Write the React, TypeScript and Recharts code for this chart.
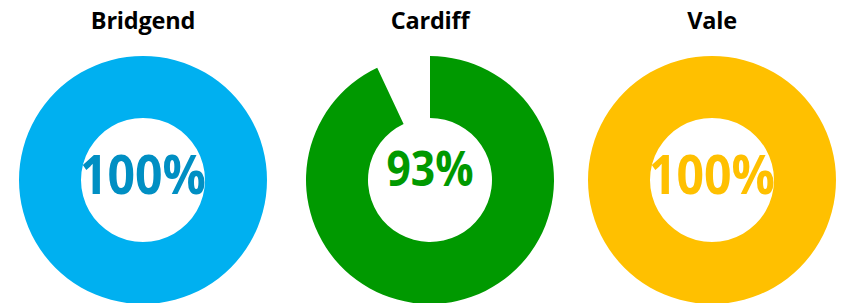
import { Cell, Pie, PieChart } from 'recharts';

const regions = ['Bridgend', 'Cardiff', 'Vale'];
const rates = [100, 93, 100];
const ringColors = ['#00B0F0', '#009900', '#FFC000'];
const labelColors = ['#008FC3', '#009900', '#FFC000'];
const centersX = [143, 430, 712];

const FONT = '"Open Sans", "Noto Sans", sans-serif';

// One donut per region, filled clockwise from 12 o'clock, with the remainder left blank.
export default function App() {
  return (
    <div style={{ position: 'absolute', left: 0, top: 0, background: '#fff' }}>
      <PieChart width={843} height={303} margin={{ top: 0, right: 0, bottom: 0, left: 0 }}>
        {regions.map((region, i) => (
          <Pie
            key={region}
            data={[
              { name: 'met', value: rates[i] },
              { name: 'rest', value: 100 - rates[i] },
            ]}
            dataKey="value"
            cx={centersX[i]}
            cy={180}
            innerRadius={62}
            outerRadius={124}
            startAngle={90}
            endAngle={-270}
            stroke="none"
            isAnimationActive={false}
          >
            <Cell fill={ringColors[i]} />
            <Cell fill="transparent" />
          </Pie>
        ))}
        {regions.map((region, i) => (
          <text
            key={`t-${region}`}
            x={centersX[i]}
            y={29}
            textAnchor="middle"
            fontFamily={FONT}
            fontWeight={700}
            fontSize={23.5}
            fill="#000"
            letterSpacing={-0.2}
          >
            {region}
          </text>
        ))}
        {regions.map((region, i) => {
          const label = `${rates[i]}%`;
          const big = label.length > 3;
          return (
            <text
              key={`v-${region}`}
              x={centersX[i]}
              y={big ? 194 : 186}
              textAnchor="middle"
              fontFamily={FONT}
              fontWeight={700}
              fontSize={big ? 54 : 48}
              fill={labelColors[i]}
              textLength={big ? 126 : 87}
              lengthAdjust="spacingAndGlyphs"
            >
              {label}
            </text>
          );
        })}
      </PieChart>
    </div>
  );
}
